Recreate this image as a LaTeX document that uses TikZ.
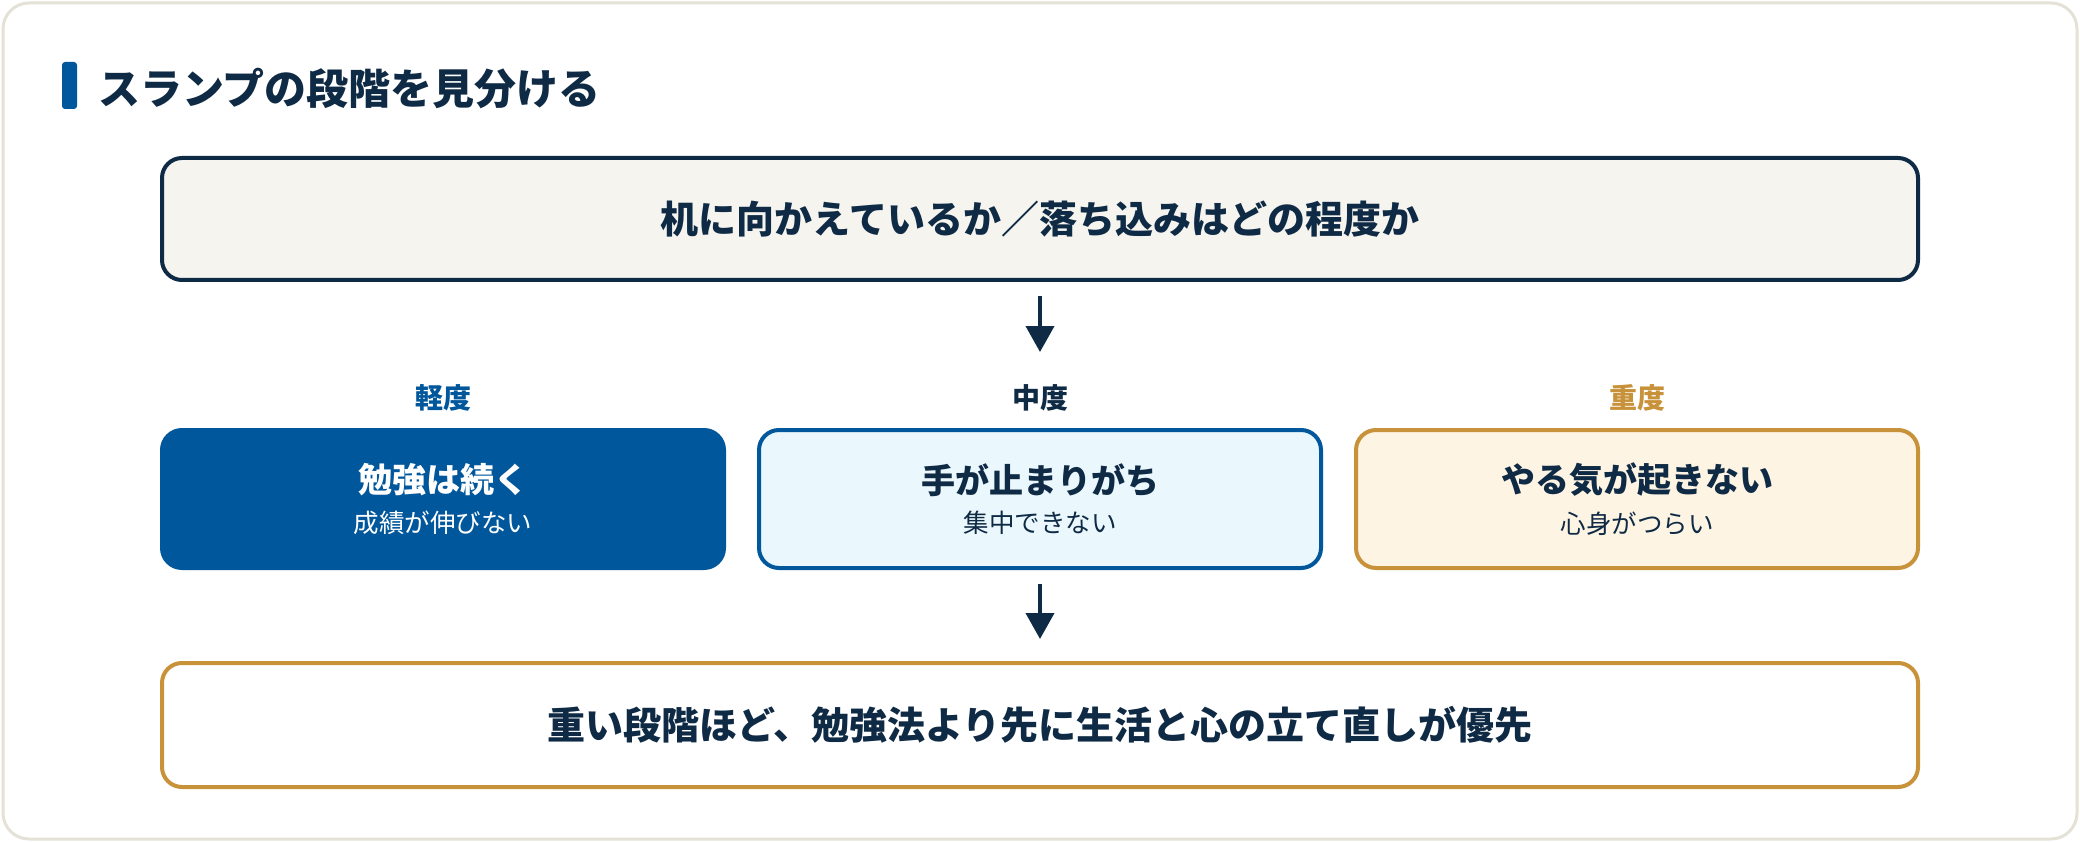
\documentclass[tikz,border=0pt]{standalone}
\usepackage{fontspec}
\setmainfont{Noto Sans CJK JP}
\usetikzlibrary{arrows.meta}
\definecolor{navy}{HTML}{0F2A44}
\definecolor{mblue}{HTML}{00579B}
\definecolor{gold}{HTML}{C8923A}
\definecolor{cardline}{HTML}{E4E1D6}
\definecolor{topfill}{HTML}{F5F4EF}
\definecolor{midfill}{HTML}{EAF7FD}
\definecolor{sevfill}{HTML}{FDF4E4}
\tikzset{
  panel/.style={rectangle, rounded corners=20pt, line width=4pt, minimum width=1756pt, minimum height=122pt, inner sep=0pt, align=center, text=navy},
  stagebox/.style={rectangle, rounded corners=20pt, line width=4pt, minimum width=562pt, minimum height=138pt, inner sep=0pt, align=center},
  lbl/.style={font=\fontsize{28pt}{32pt}\selectfont\bfseries, inner sep=0pt},
  arr/.style={draw=navy, line width=4pt, -{Triangle[length=26pt,width=28pt]}},
}
\newcommand{\boxtitle}{\fontsize{34pt}{40pt}\selectfont\bfseries}
\newcommand{\boxsub}{\fontsize{25.5pt}{30pt}\selectfont}
\begin{document}
\begin{tikzpicture}[x=1pt,y=-1pt]
\useasboundingbox (0,0) rectangle (2080,842);
\fill[white] (0,0) rectangle (2080,842);
\draw[cardline, line width=3pt, fill=white, rounded corners=26pt] (3,3) rectangle (2077,839);
% heading
\fill[mblue, rounded corners=3pt] (62,62) rectangle (77,109);
\node[anchor=west, inner sep=0pt, text=navy, font=\fontsize{42pt}{48pt}\selectfont\bfseries] (title) at (98,88) {スランプの段階を見分ける};
% top box
\node[panel, draw=navy, fill=topfill, font=\fontsize{38pt}{44pt}\selectfont\bfseries] (top) at (1040,219) {机に向かえているか／落ち込みはどの程度か};
% labels
\node[lbl, text=mblue] (l1) at (443,398) {軽度};
\node[lbl, text=navy] (l2) at (1040,398) {中度};
\node[lbl, text=gold] (l3) at (1637,398) {重度};
% stage boxes
\node[stagebox, draw=mblue, fill=mblue, text=white] (s1) at (443,499) {{\boxtitle 勉強は続く}\\[14pt]{\boxsub 成績が伸びない}};
\node[stagebox, draw=mblue, fill=midfill, text=navy] (s2) at (1040,499) {{\boxtitle 手が止まりがち}\\[14pt]{\boxsub 集中できない}};
\node[stagebox, draw=gold, fill=sevfill, text=navy] (s3) at (1637,499) {{\boxtitle やる気が起きない}\\[14pt]{\boxsub 心身がつらい}};
% bottom
\node[panel, draw=gold, fill=white, minimum height=124pt, font=\fontsize{38pt}{44pt}\selectfont\bfseries] (bot) at (1040,725) {重い段階ほど、勉強法より先に生活と心の立て直しが優先};
% arrows
\coordinate (a1e) at (1040,352);
\coordinate (a2e) at (1040,639);
\draw[arr, shorten <=14pt] (top.south) -- (a1e);
\draw[arr, shorten <=14pt] (s2.south) -- (a2e);
\end{tikzpicture}
\end{document}
